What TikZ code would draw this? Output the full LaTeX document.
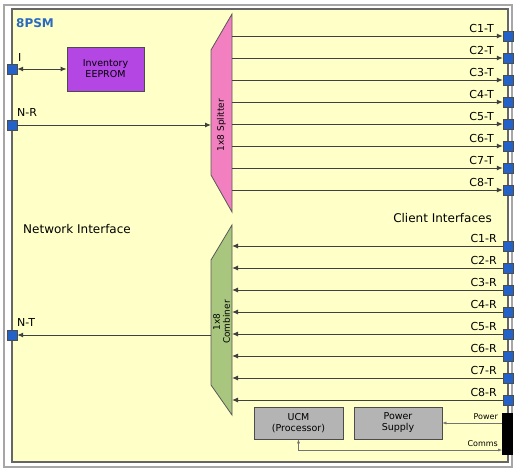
\documentclass[tikz,border=0pt]{standalone}
\usepackage{fontspec}
\setmainfont{DejaVu Sans}
\usetikzlibrary{arrows.meta}

\definecolor{boardyellow}{HTML}{FFFFC8}
\definecolor{portblue}{HTML}{2462C8}
\definecolor{titleblue}{HTML}{2A6BC0}
\definecolor{eeprompurple}{HTML}{B446E4}
\definecolor{splitpink}{HTML}{F27FC0}
\definecolor{combgreen}{HTML}{A9C67E}
\definecolor{boxgray}{HTML}{B4B4B4}

\begin{document}
\begin{tikzpicture}[x=1pt, y=-1pt,
    port/.style={draw=black!70, fill=portblue, minimum size=10pt, inner sep=0pt},
    sig/.style={draw=black!75, line width=1pt},
    arr/.style={sig, -{Latex[length=6pt, width=5pt]}},
    thinarr/.style={draw=black!55, line width=0.5pt, -{Latex[length=4pt, width=3pt]}},
    lbl/.style={inner sep=0pt, font=\fontsize{11}{11}\selectfont},
    box/.style={draw=black!70, line width=0.8pt, align=center, inner sep=0pt,
        font=\fontsize{9.5}{11}\selectfont}]
        \useasboundingbox (0,0) rectangle (514,472);
        \draw [black!35, line width=2pt, fill=white] (4,5) rectangle (512,467);
        \draw [black!60, line width=1.2pt, fill=boardyellow] (12,9) rectangle (508,462);

        \node [anchor=base west, text=titleblue, inner sep=0pt,
            font=\bfseries\fontsize{12}{12}\selectfont] (title) at (16,27) {8PSM};
        \node [lbl, anchor=base west, font=\fontsize{12}{12}\selectfont] (netif) at (23,233) {Network Interface};
        \node [lbl, anchor=base east, font=\fontsize{12}{12}\selectfont] (clientif) at (492,222) {Client Interfaces};

        % network side
        \node [port] (pi) at (12,69) {};
        \node [port] (pnr) at (12,125) {};
        \node [port] (pnt) at (12,335) {};
        \node [lbl, anchor=base west] (li) at (18,61) {I};
        \node [lbl, anchor=base west] (lnr) at (17,116) {N-R};
        \node [lbl, anchor=base west] (lnt) at (17,326) {N-T};

        \node [box, fill=eeprompurple, minimum width=77pt, minimum height=44pt] (eeprom) at (105.5,69) {Inventory\\EEPROM};
        \draw [sig, {Latex[length=6pt, width=5pt]}-{Latex[length=6pt, width=5pt]}] (pi.east) to (eeprom.west);

        % splitter and combiner
        \draw [black!65, line width=0.8pt, fill=splitpink] (211,50) -- (232,14) -- (232,212) -- (211,175) -- cycle;
        \node [rotate=90, inner sep=0pt, font=\fontsize{9}{9}\selectfont] (splitter) at (221.5,125) {1x8 Splitter};
        \draw [black!65, line width=0.8pt, fill=combgreen] (211,260) -- (232,225) -- (232,415) -- (211,385) -- cycle;
        \node [rotate=90, inner sep=0pt, align=center, font=\fontsize{9}{10}\selectfont] (combiner) at (221.5,322) {1x8\\Combiner};

        \coordinate (sin) at (211,125);
        \coordinate (cout) at (211,335);
        \draw [arr] (pnr.east) to (sin);
        \draw [arr] (cout) to (pnt.east);

        \foreach \i in {1,...,8}
        {
            \pgfmathsetmacro{\yt}{36+22*(\i-1)}
            \pgfmathsetmacro{\yr}{246+22*(\i-1)}
            \coordinate (s\i) at (232,\yt);
            \coordinate (c\i) at (232,\yr);
            \node [port] (ct\i) at (508,\yt) {};
            \node [port] (cr\i) at (508,\yr) {};
            \node [lbl, anchor=base east] (lct\i) at (494,\yt-4) {C\i-T};
            \node [lbl, anchor=base east] (lcr\i) at (497,\yr-4) {C\i-R};
            \draw [arr] (s\i) to (ct\i.west);
            \draw [arr] (cr\i.west) to (c\i);
        }

        % management
        \node [box, fill=boxgray, minimum width=89pt, minimum height=32pt] (ucm) at (298.5,423) {UCM\\(Processor)};
        \node [box, fill=boxgray, minimum width=88pt, minimum height=32pt] (psu) at (398,423) {Power\\Supply};
        \node [fill=black, inner sep=0pt, minimum width=11pt, minimum height=42pt] (conn) at (507.5,434) {};
        \coordinate (pwr) at (502,423);
        \coordinate (comms) at (502,450);
        \draw [thinarr] (pwr) to (psu.east);
        \draw [thinarr, {Latex[length=4pt, width=3pt]}-{Latex[length=4pt, width=3pt]}] (ucm.south) |- (comms);
        \node [lbl, anchor=base east, font=\fontsize{8}{8}\selectfont] (lpwr) at (498,419) {Power};
        \node [lbl, anchor=base east, font=\fontsize{8}{8}\selectfont] (lcomms) at (498,446) {Comms};
    \end{tikzpicture}
\end{document}
